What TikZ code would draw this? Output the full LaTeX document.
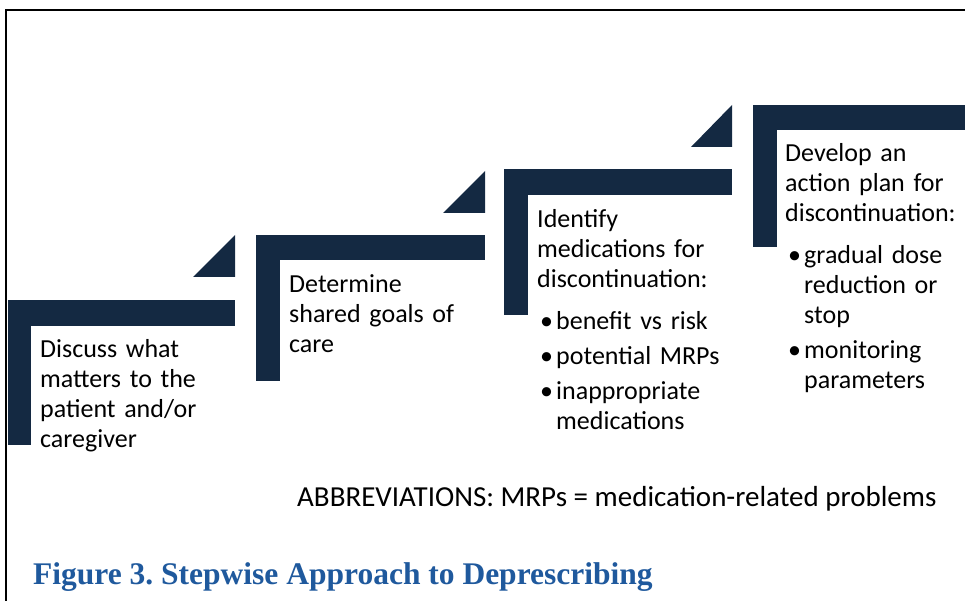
\documentclass[tikz,border=0pt]{standalone}
\usepackage{fontspec}
\setmainfont[WordSpace=0.75]{Carlito}
\newfontfamily\abbrfont{Carlito}
\newfontfamily\titlefont{Liberation Serif}
\usetikzlibrary{positioning}

\definecolor{navy}{RGB}{20,41,66}
\definecolor{figblue}{RGB}{31,89,157}

% bullet items: first one after the heading, the others after a bullet
\newcommand{\bitem}[1]{\par\vspace{12pt}\noindent\makebox[19pt][l]{\hspace{3pt}\textbullet}\parbox[t]{165pt}{#1\strut}}
\newcommand{\nitem}[1]{\par\prevdepth=\dp\strutbox\vspace{5pt}\noindent\makebox[19pt][l]{\hspace{3pt}\textbullet}\parbox[t]{165pt}{#1\strut}}

\begin{document}
\begin{tikzpicture}[x=1pt,y=-1pt,
  bar/.style = {fill=navy},
  steptext/.style = {anchor=base west, inner sep=0pt, text width=195pt, align=left, font=\fontsize{26}{30}\selectfont},
]
\useasboundingbox (0,0) rectangle (965,601);
% frame
\draw[line width=2.5pt] (6,601)--(6,10)--(965,10);

% step 1
\fill[bar] (8,300) rectangle (235,326);
\fill[bar] (8,300) rectangle (31,445);
\fill[bar] (193,277)--(235,277)--(235,235)--cycle;
\node (s1) at (40,357)[steptext] {Discuss what\\ matters to the\\ patient and/or\\ caregiver};

% step 2
\fill[bar] (256,235) rectangle (485,260);
\fill[bar] (256,235) rectangle (280,381);
\fill[bar] (443,213)--(485,213)--(485,171)--cycle;
\node (s2) at (289,292)[steptext] {Determine\\ shared goals of\\ care};

% step 3
\fill[bar] (504,169) rectangle (732,195);
\fill[bar] (504,169) rectangle (528,315);
\fill[bar] (691,147)--(732,147)--(732,105)--cycle;
\node (s3) at (537,228)[steptext] {Identify\\ medications for\\ discontinuation:
  \bitem{benefit vs risk}
  \nitem{potential MRPs}
  \nitem{inappropriate\\ medications}};

% step 4
\fill[bar] (753,105) rectangle (965,130);
\fill[bar] (753,105) rectangle (777,247);
\node (s4) at (785,162)[steptext] {Develop an\\ action plan for\\ discontinuation:
  \bitem{gradual dose\\ reduction or\\ stop}
  \nitem{monitoring\\ parameters}};

\node (abbr) at (297,506)[anchor=base west, inner sep=0pt, font=\abbrfont\fontsize{29}{32}\selectfont] {ABBREVIATIONS: MRPs = medication-related problems};
\node (title) at (33,584)[anchor=base west, inner sep=0pt, text=figblue, font=\titlefont\bfseries\fontsize{31.5}{34}\selectfont] {Figure 3.\ Stepwise Approach to Deprescribing};
\end{tikzpicture}
\end{document}
